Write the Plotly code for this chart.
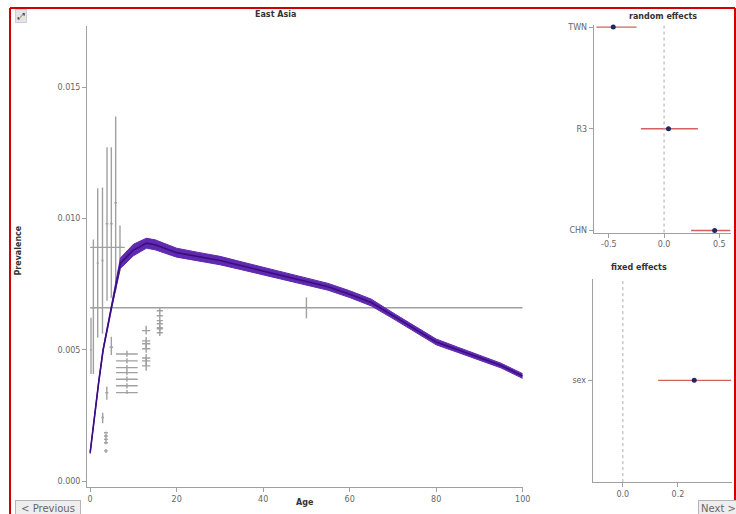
import plotly.graph_objects as go

W, H = 736, 514          # reference pixel frame used for placement
FIG_W, FIG_H = 745, 540  # rendered size
def px(x): return x / W
def py(y): return 1 - ((y - 2) * (520 / 514)) / FIG_H

# ---------------- data ----------------
# model curve (age, mean, lower, upper)
curve_age = [0, 1, 2, 3, 5, 7, 10, 13, 15, 20, 25, 30, 35, 40, 45, 50, 55, 60, 65, 70, 75, 78, 80, 85, 90, 95, 100]
curve_mid = [0.00108, 0.0025, 0.0038, 0.0050, 0.0067, 0.0083, 0.0088, 0.00906, 0.0090, 0.0087, 0.00855,
             0.0084, 0.0082, 0.0080, 0.0078, 0.0076, 0.0074, 0.00712, 0.0068, 0.0063, 0.0058, 0.0055,
             0.0053, 0.0050, 0.0047, 0.0044, 0.0040]
curve_lo = [0.00104, 0.00245, 0.00375, 0.00495, 0.00664, 0.0081, 0.00858, 0.00887, 0.00881, 0.00853, 0.00839,
            0.00824, 0.00805, 0.00785, 0.00766, 0.00747, 0.00727, 0.00699, 0.00667, 0.00619, 0.00569, 0.00539,
            0.00519, 0.0049, 0.0046, 0.00431, 0.00391]
curve_hi = [0.00112, 0.00255, 0.00385, 0.00505, 0.00676, 0.0085, 0.00902, 0.00925, 0.00919, 0.00887, 0.00871,
            0.00856, 0.00835, 0.00815, 0.00794, 0.00773, 0.00753, 0.00725, 0.00693, 0.00641, 0.00591, 0.00561,
            0.00541, 0.0051, 0.0048, 0.00449, 0.00409]

# observations: age range, value, uncertainty interval
obs_age_start = [0.0, 0.5, 1.5, 2.6, 3.6, 4.6, 5.6, 6.6, 0.0, 0.0,
                 4.5, 3.5, 2.6, 3.2, 3.2, 3.2, 3.2, 3.2,
                 6.0, 6.0, 6.0, 6.0, 6.0, 6.0, 6.0,
                 12.0, 12.0, 12.0, 12.0, 12.0, 12.0, 12.0,
                 15.4, 15.4, 15.4, 15.4, 15.4, 15.4, 15.4]
obs_age_end = [0.4, 1.0, 2.0, 3.1, 4.2, 5.2, 6.2, 7.2, 100.0, 8.0,
               5.3, 4.2, 3.2, 4.1, 4.1, 4.1, 4.1, 4.1,
               11.0, 11.0, 11.0, 11.0, 11.0, 11.0, 11.0,
               13.9, 13.9, 13.9, 13.9, 13.9, 13.9, 13.9,
               16.8, 16.8, 16.8, 16.8, 16.8, 16.8, 16.8]
obs_value = [0.0050, 0.0066, 0.0083, 0.0084, 0.0098, 0.0098, 0.0106, 0.0089, 0.0066, 0.0089,
             0.0051, 0.00337, 0.00242, 0.00184, 0.00172, 0.00159, 0.00146, 0.00115,
             0.00484, 0.00458, 0.00432, 0.00413, 0.00388, 0.00363, 0.00337,
             0.00573, 0.00534, 0.00523, 0.00504, 0.00469, 0.00458, 0.00439,
             0.00649, 0.0063, 0.00611, 0.00599, 0.00584, 0.0058, 0.00565]
obs_lower = [0.00408, 0.00408, 0.00546, 0.00561, 0.00687, 0.00698, 0.00725, 0.0082, 0.0062, 0.0089,
             0.0048, 0.0031, 0.0022, 0.0019, 0.00165, 0.00152, 0.0014, 0.00107,
             0.00474, 0.00448, 0.00422, 0.00403, 0.00378, 0.00353, 0.00332,
             0.00558, 0.00519, 0.00508, 0.00489, 0.00454, 0.00443, 0.0042,
             0.00639, 0.0062, 0.00601, 0.00589, 0.00574, 0.0057, 0.00553]
obs_upper = [0.00622, 0.0092, 0.01115, 0.01118, 0.01271, 0.01271, 0.01389, 0.00973, 0.0070, 0.0089,
             0.0055, 0.0036, 0.0026, 0.00192, 0.0018, 0.00166, 0.00153, 0.00122,
             0.00496, 0.00468, 0.00442, 0.00423, 0.00398, 0.00373, 0.00347,
             0.00592, 0.00549, 0.00538, 0.00519, 0.00484, 0.00473, 0.00454,
             0.0066, 0.0064, 0.00621, 0.00609, 0.00594, 0.0059, 0.00575]

# random effects
re_labels = ["TWN", "R3", "CHN"]
re_mean = [-0.46, 0.04, 0.458]
re_lower = [-0.612, -0.209, 0.245]
re_upper = [-0.248, 0.306, 0.60]

# fixed effects
fe_labels = ["sex"]
fe_mean = [0.259]
fe_lower = [0.128]
fe_upper = [0.393]

x_ticks = [0, 20, 40, 60, 80, 100]
y_ticks = [0, 0.005, 0.010, 0.015]
y_ticktext = ["0.000", "0.005", "0.010", "0.015"]

# ---------------- figure ----------------
FONT = "DejaVu Sans"
GRAY = "#a0a0a0"
fig = go.Figure()

obs_mid = [(a + b) / 2 for a, b in zip(obs_age_start, obs_age_end)]
fig.add_trace(go.Scatter(
    x=obs_mid, y=obs_value, mode="markers",
    marker=dict(size=1, color="rgba(0,0,0,0)"),
    error_x=dict(type="data", symmetric=False,
                 array=[e - m for e, m in zip(obs_age_end, obs_mid)],
                 arrayminus=[m - s for m, s in zip(obs_mid, obs_age_start)],
                 color=GRAY, thickness=1.4, width=0),
    error_y=dict(type="data", symmetric=False,
                 array=[u - v for u, v in zip(obs_upper, obs_value)],
                 arrayminus=[v - l for v, l in zip(obs_value, obs_lower)],
                 color=GRAY, thickness=1.4, width=0),
    xaxis="x", yaxis="y", showlegend=False, hoverinfo="skip"))

BAND = "rgb(96,42,176)"
fig.add_trace(go.Scatter(x=curve_age, y=curve_lo, mode="lines",
                         line=dict(color=BAND, width=1), xaxis="x", yaxis="y", showlegend=False))
fig.add_trace(go.Scatter(x=curve_age, y=curve_hi, mode="lines", fill="tonexty", fillcolor=BAND,
                         line=dict(color=BAND, width=1), xaxis="x", yaxis="y", showlegend=False))
fig.add_trace(go.Scatter(x=curve_age, y=curve_mid, mode="lines",
                         line=dict(color="rgb(58,14,128)", width=1.6), xaxis="x", yaxis="y", showlegend=False))

RED = "#d46060"
NAVY = "#1c2a5e"
fig.add_trace(go.Scatter(
    x=re_mean, y=list(range(len(re_labels))), mode="markers",
    marker=dict(size=5, color=NAVY),
    error_x=dict(type="data", symmetric=False,
                 array=[u - m for u, m in zip(re_upper, re_mean)],
                 arrayminus=[m - l for m, l in zip(re_mean, re_lower)],
                 color=RED, thickness=1.4, width=0),
    xaxis="x2", yaxis="y2", showlegend=False, cliponaxis=False))

fig.add_trace(go.Scatter(
    x=fe_mean, y=list(range(len(fe_labels))), mode="markers",
    marker=dict(size=5, color=NAVY),
    error_x=dict(type="data", symmetric=False,
                 array=[u - m for u, m in zip(fe_upper, fe_mean)],
                 arrayminus=[m - l for m, l in zip(fe_mean, fe_lower)],
                 color=RED, thickness=1.4, width=0),
    xaxis="x3", yaxis="y3", showlegend=False, cliponaxis=False))

tickfont = dict(family=FONT, size=8, color="#666")
axcommon = dict(showgrid=False, zeroline=False, showline=True, linecolor="#a0a0a0", linewidth=1.2,
                ticks="outside", ticklen=4, tickcolor="#a0a0a0", tickfont=tickfont)

fig.update_layout(
    width=FIG_W, height=FIG_H, margin=dict(l=0, r=0, t=0, b=0),
    paper_bgcolor="white", plot_bgcolor="white",
    xaxis=dict(domain=[px(87), px(522)], range=[-0.7, 100], anchor="y",
               tickvals=x_ticks, **axcommon),
    yaxis=dict(domain=[py(486), py(26)], range=[-0.000229, 0.01733], anchor="x",
               tickvals=y_ticks, ticktext=y_ticktext, **axcommon),
    xaxis2=dict(domain=[px(593), px(730)], range=[-0.636, 0.606], anchor="y2",
                tickvals=[-0.5, 0, 0.5], ticktext=["-0.5", "0.0", "0.5"], **axcommon),
    yaxis2=dict(domain=[py(232), py(25)], range=[2.02, -0.02], anchor="x2",
                tickvals=[0, 1, 2], ticktext=re_labels, **axcommon),
    xaxis3=dict(domain=[px(592), px(731)], range=[-0.109, 0.396], anchor="y3",
                tickvals=[0, 0.2], ticktext=["0.0", "0.2"], **axcommon),
    yaxis3=dict(domain=[py(481), py(278)], range=[-1, 1], anchor="x3",
                tickvals=[0], ticktext=fe_labels, **axcommon),
)

border = dict(color="#d00000", width=2)
shapes = [
    dict(type="line", xref="x2", yref="y2 domain", x0=0, x1=0, y0=0, y1=1,
         line=dict(color="#aaa", width=1, dash="dot")),
    dict(type="line", xref="x3", yref="y3 domain", x0=0, x1=0, y0=0, y1=1,
         line=dict(color="#aaa", width=1, dash="dot")),
    dict(type="line", xref="paper", yref="paper", x0=px(10), x1=px(734), y0=py(8), y1=py(8), line=border),
    dict(type="line", xref="paper", yref="paper", x0=px(10), x1=px(10), y0=0, y1=py(8), line=border),
    dict(type="line", xref="paper", yref="paper", x0=px(734), x1=px(734), y0=0, y1=py(8), line=border),
]
fig.update_layout(shapes=shapes)

bold = dict(family=FONT, size=8, color="#333")
def label(text, x, y, **kw):
    d = dict(text=text, x=px(x), y=py(y), xref="paper", yref="paper", showarrow=False,
             xanchor="center", yanchor="middle", font=bold)
    d.update(kw)
    return d

ann = [
    label("<b>East Asia</b>", 275, 14),
    label("<b>Prevalence</b>", 19, 250, textangle=-90),
    label("<b>Age</b>", 305, 501),
    label("<b>random effects</b>", 662, 16),
    label("<b>fixed effects</b>", 638, 267),
    label("⤢", 21, 16, font=dict(family=FONT, size=9, color="#333"), bgcolor="#e4e4e4",
          bordercolor="#cfcfcf", borderwidth=1, borderpad=1),
    label("&lt; Previous", 15, 499, xanchor="left", yanchor="top", width=60,
          font=dict(family=FONT, size=10, color="#666"), bgcolor="#eeeeee",
          bordercolor="#b5b5b5", borderwidth=1, borderpad=2),
    label("Next &gt;", 697, 499, xanchor="left", yanchor="top",
          font=dict(family=FONT, size=10, color="#666"), bgcolor="#eeeeee",
          bordercolor="#b5b5b5", borderwidth=1, borderpad=2),
]
fig.update_layout(annotations=ann)

fig.write_html("out.html", config={"displayModeBar": False},
               post_script="document.body.style.margin='0px';document.body.style.overflow='hidden';")
